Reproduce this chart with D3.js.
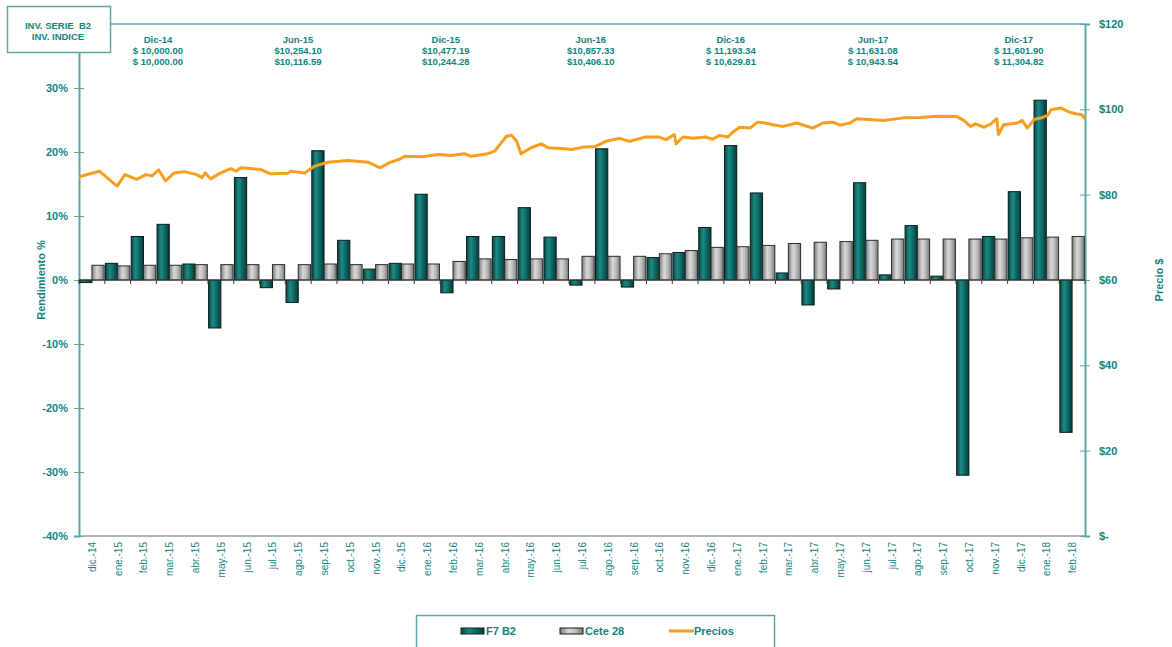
<!DOCTYPE html>
<html>
<head>
<meta charset="utf-8">
<script src="https://cdn.jsdelivr.net/npm/d3@7"></script>
<style>
  body { margin: 0; background: #fff; }
  svg text { font-family: "Liberation Sans", Arial, sans-serif; }
</style>
</head>
<body>
<div id="chart"></div>
<script>
/* ============================================================
   Rendimiento mensual F7 B2 vs Cete 28 + precio diario
   ============================================================ */

// Months (x categories)
const months = ['dic.-14', 'ene.-15', 'feb.-15', 'mar.-15', 'abr.-15', 'may.-15', 'jun.-15', 'jul.-15',
    'ago.-15', 'sep.-15', 'oct.-15', 'nov.-15', 'dic.-15', 'ene.-16', 'feb.-16', 'mar.-16', 'abr.-16',
    'may.-16', 'jun.-16', 'jul.-16', 'ago.-16', 'sep.-16', 'oct.-16', 'nov.-16', 'dic.-16', 'ene.-17',
    'feb.-17', 'mar.-17', 'abr.-17', 'may.-17', 'jun.-17', 'jul.-17', 'ago.-17', 'sep.-17', 'oct.-17',
    'nov.-17', 'dic.-17', 'ene.-18', 'feb.-18'];

// Monthly return F7 B2 (%)
const f7b2 = [-0.4, 2.6, 6.8, 8.7, 2.5, -7.5, 16.0, -1.2, -3.5, 20.2, 6.2, 1.7, 2.6, 13.4, -2.0, 6.8,
    6.8, 11.3, 6.7, -0.8, 20.5, -1.1, 3.5, 4.3, 8.2, 21.0, 13.6, 1.1, -3.9, -1.4, 15.2, 0.8, 8.5, 0.6,
    -30.5, 6.8, 13.8, 28.1, -23.8];

// Monthly Cete 28 (%)
const cete28 = [2.3, 2.2, 2.3, 2.3, 2.4, 2.4, 2.4, 2.4, 2.4, 2.5, 2.4, 2.4, 2.5, 2.5, 2.9, 3.3, 3.2,
    3.3, 3.3, 3.7, 3.7, 3.7, 4.1, 4.6, 5.1, 5.2, 5.4, 5.7, 5.9, 6.0, 6.2, 6.4, 6.4, 6.4, 6.4, 6.4, 6.6,
    6.7, 6.8];

// Price series (right axis)
const priceDates = ['2014-12-01', '2014-12-25', '2015-01-15', '2015-01-24', '2015-02-07', '2015-02-18',
    '2015-02-25', '2015-03-05', '2015-03-13', '2015-03-23', '2015-04-04', '2015-04-19', '2015-04-25',
    '2015-04-29', '2015-05-05', '2015-05-17', '2015-05-29', '2015-06-04', '2015-06-10', '2015-07-03',
    '2015-07-15', '2015-08-04', '2015-08-08', '2015-08-24', '2015-09-05', '2015-09-20', '2015-10-14',
    '2015-11-07', '2015-11-21', '2015-12-02', '2015-12-14', '2015-12-20', '2016-01-09', '2016-01-29',
    '2016-02-13', '2016-02-28', '2016-03-07', '2016-03-27', '2016-04-04', '2016-04-18', '2016-04-24',
    '2016-04-30', '2016-05-05', '2016-05-17', '2016-05-29', '2016-06-06', '2016-06-22', '2016-07-04',
    '2016-07-19', '2016-08-01', '2016-08-13', '2016-08-29', '2016-09-10', '2016-09-29', '2016-10-15',
    '2016-10-23', '2016-11-02', '2016-11-04', '2016-11-12', '2016-11-24', '2016-12-09', '2016-12-17',
    '2016-12-25', '2017-01-04', '2017-01-10', '2017-01-18', '2017-01-30', '2017-02-08', '2017-02-17',
    '2017-02-26', '2017-03-10', '2017-03-26', '2017-04-14', '2017-04-26', '2017-05-08', '2017-05-16',
    '2017-05-28', '2017-06-05', '2017-06-20', '2017-07-06', '2017-07-30', '2017-08-19', '2017-09-08',
    '2017-10-01', '2017-10-09', '2017-10-17', '2017-10-23', '2017-11-02', '2017-11-10', '2017-11-17',
    '2017-11-19', '2017-11-25', '2017-12-11', '2017-12-17', '2017-12-23', '2017-12-31', '2018-01-10',
    '2018-01-16', '2018-01-20', '2018-02-01', '2018-02-10', '2018-02-19', '2018-02-25', '2018-03-01'];
const prices = [84.2, 85.5, 82.0, 84.7, 83.6, 84.7, 84.4, 85.8, 83.2, 85.1, 85.4, 84.7, 84.0, 85.1,
    83.7, 85.1, 86.1, 85.5, 86.3, 85.9, 84.9, 85.0, 85.5, 85.1, 86.7, 87.6, 88.0, 87.6, 86.3, 87.5, 88.3,
    89.0, 88.9, 89.4, 89.2, 89.6, 89.0, 89.6, 90.2, 93.7, 93.9, 92.5, 89.6, 91.0, 91.9, 91.0, 90.8, 90.6,
    91.2, 91.3, 92.5, 93.2, 92.5, 93.5, 93.5, 92.9, 94.1, 91.9, 93.5, 93.2, 93.5, 93.0, 93.9, 93.5, 94.7,
    95.8, 95.6, 97.0, 96.8, 96.4, 96.0, 96.8, 95.6, 96.8, 97.0, 96.3, 96.8, 97.8, 97.6, 97.4, 98.0, 98.1,
    98.4, 98.3, 97.4, 96.0, 96.6, 95.8, 96.6, 97.8, 94.1, 96.4, 96.8, 97.4, 95.6, 97.6, 98.1, 98.6, 99.9,
    100.3, 99.4, 98.9, 98.8, 97.8];

// Left and right axis ticks
const pctTicks = [-40, -30, -20, -10, 0, 10, 20, 30];
const priceTicks = [0, 20, 40, 60, 80, 100, 120];

// Semester annotations above the plot
const noteLabels = ['Dic-14', 'Jun-15', 'Dic-15', 'Jun-16', 'Dic-16', 'Jun-17', 'Dic-17'];
const noteSerie = ['$ 10,000.00', '$10,254.10', '$10,477.19', '$10,857.33', '$ 11,193.34', '$ 11,631.08', '$ 11,601.90'];
const noteIndice = ['$ 10,000.00', '$10,116.59', '$10,244.28', '$10,406.10', '$ 10,629.81', '$ 10,943.54', '$ 11,304.82'];

const seriesNames = ['F7 B2', 'Cete 28', 'Precios'];

// where the annotation text boxes sit, in month units from the left edge
const noteAt = [3.06, 8.49, 14.22, 19.84, 25.27, 30.78, 36.43];

const TEXT = '#11847e';
const AXIS = '#5aa8a6';
const ORANGE = '#f99d1c';

const W = 1172, H = 647;
const M = { left: 79, right: 1085, top: 24, bottom: 536 };

const svg = d3.select('#chart').append('svg')
    .attr('width', W)
    .attr('height', H);

const defs = svg.append('defs');
function addGradient(id, stops) {
    const g = defs.append('linearGradient').attr('id', id)
        .attr('x1', '0%').attr('x2', '100%').attr('y1', '0%').attr('y2', '0%');
    stops.forEach(s => g.append('stop').attr('offset', s[0]).attr('stop-color', s[1]));
}
addGradient('gTeal', [['0%', '#0a4744'], ['35%', '#1b8a83'], ['60%', '#0f6e69'], ['100%', '#083a38']]);
addGradient('gGray', [['0%', '#7c7c7c'], ['40%', '#d9d9d9'], ['65%', '#bdbdbd'], ['100%', '#7a7a7a']]);

// Scales
const x = d3.scaleBand()
    .domain(months)
    .range([M.left, M.right])
    .paddingInner(0.05)
    .paddingOuter(0.025);

const xSub = d3.scaleBand()
    .domain(['f7', 'cete'])
    .range([0, x.bandwidth()]);

const xIdx = d3.scaleLinear().domain([0, months.length]).range([M.left, M.right]);

const yPct = d3.scaleLinear().domain([-40, 40]).range([M.bottom, M.top]);
const yPrice = d3.scaleLinear().domain([0, 120]).range([M.bottom, M.top]);

const parse = d3.timeParse('%Y-%m-%d');
const xTime = d3.scaleTime()
    .domain([parse('2014-12-01'), parse('2018-03-01')])
    .range([M.left, M.right]);

// Plot frame
svg.append('line')
    .attr('x1', M.left).attr('x2', M.right)
    .attr('y1', M.bottom).attr('y2', M.bottom)
    .attr('stroke', '#9a9a9a').attr('stroke-width', 1.5);
svg.append('line')
    .attr('x1', M.left).attr('x2', M.right)
    .attr('y1', M.top).attr('y2', M.top)
    .attr('stroke', AXIS).attr('stroke-width', 1.5);

// Left axis
const leftAxis = svg.append('g').attr('transform', `translate(${M.left},0)`)
    .call(d3.axisLeft(yPct).tickValues(pctTicks).tickSize(5).tickFormat(d => d + '%'));
leftAxis.select('.domain').attr('stroke', AXIS).attr('stroke-width', 2);
leftAxis.selectAll('.tick line').attr('stroke', AXIS).attr('x2', 5).attr('x1', -5);
leftAxis.selectAll('.tick text')
    .attr('x', -11)
    .attr('fill', TEXT).attr('font-size', 11).attr('font-weight', 'bold');

// Right axis
const rightAxis = svg.append('g').attr('transform', `translate(${M.right},0)`)
    .call(d3.axisRight(yPrice).tickValues(priceTicks).tickSize(5)
        .tickFormat(d => d === 0 ? '$-' : '$' + d));
rightAxis.select('.domain').attr('stroke', AXIS).attr('stroke-width', 2);
rightAxis.selectAll('.tick line').attr('stroke', AXIS).attr('x1', -5).attr('x2', 5);
rightAxis.selectAll('.tick text')
    .attr('x', 14)
    .attr('fill', TEXT).attr('font-size', 11).attr('font-weight', 'bold');

// Axis titles
svg.append('text')
    .attr('transform', `translate(45,${yPct(0)}) rotate(-90)`)
    .attr('text-anchor', 'middle')
    .attr('fill', TEXT).attr('font-size', 11).attr('font-weight', 'bold')
    .text('Rendimiento %');
svg.append('text')
    .attr('transform', `translate(1163,${(M.top + M.bottom) / 2}) rotate(-90)`)
    .attr('text-anchor', 'middle')
    .attr('fill', TEXT).attr('font-size', 11).attr('font-weight', 'bold')
    .text('Precio $');

// Month labels at the bottom
svg.append('g').selectAll('text')
    .data(months)
    .enter()
    .append('text')
    .attr('transform', d => `translate(${x(d) + x.bandwidth() / 2 + 4},${M.bottom + 6}) rotate(-90)`)
    .attr('text-anchor', 'end')
    .attr('fill', TEXT).attr('font-size', 10)
    .text(d => d);

// Bars
const barGroups = svg.append('g').selectAll('g')
    .data(months.map((m, i) => ({ month: m, f7: f7b2[i], cete: cete28[i] })))
    .enter()
    .append('g')
    .attr('transform', d => `translate(${x(d.month)},0)`);

barGroups.append('rect')
    .attr('x', xSub('f7'))
    .attr('width', xSub.bandwidth())
    .attr('y', d => yPct(Math.max(0, d.f7)))
    .attr('height', d => Math.abs(yPct(d.f7) - yPct(0)))
    .attr('fill', 'url(#gTeal)')
    .attr('stroke', '#0a1a1a').attr('stroke-width', 1);

barGroups.append('rect')
    .attr('x', xSub('cete'))
    .attr('width', xSub.bandwidth())
    .attr('y', d => yPct(Math.max(0, d.cete)))
    .attr('height', d => Math.abs(yPct(d.cete) - yPct(0)))
    .attr('fill', 'url(#gGray)')
    .attr('stroke', '#2a2a2a').attr('stroke-width', 1);

// Zero line with category ticks
svg.append('line')
    .attr('x1', M.left).attr('x2', M.right)
    .attr('y1', yPct(0)).attr('y2', yPct(0))
    .attr('stroke', '#3a3a3a').attr('stroke-width', 1.2);
svg.append('g').selectAll('line')
    .data(d3.range(months.length + 1))
    .enter()
    .append('line')
    .attr('x1', i => xIdx(i))
    .attr('x2', i => xIdx(i))
    .attr('y1', yPct(0)).attr('y2', yPct(0) + 4)
    .attr('stroke', '#3a3a3a');

// Price line
const priceData = priceDates.map((d, i) => ({ date: parse(d), value: prices[i] }));
svg.append('path')
    .datum(priceData)
    .attr('fill', 'none')
    .attr('stroke', ORANGE)
    .attr('stroke-width', 3)
    .attr('stroke-linejoin', 'round')
    .attr('d', d3.line().x(d => xTime(d.date)).y(d => yPrice(d.value)));

// Top-left box
svg.append('rect')
    .attr('x', 7.5).attr('y', 6.5).attr('width', 103).attr('height', 46)
    .attr('fill', '#fff').attr('stroke', AXIS).attr('stroke-width', 1.5);
svg.append('text')
    .attr('x', 58).attr('y', 29)
    .attr('text-anchor', 'middle').attr('fill', TEXT)
    .attr('font-size', 9.5).attr('font-weight', 'bold')
    .attr('xml:space', 'preserve')
    .text('INV. SERIE  B2');
svg.append('text')
    .attr('x', 58).attr('y', 40)
    .attr('text-anchor', 'middle').attr('fill', TEXT)
    .attr('font-size', 9.5).attr('font-weight', 'bold')
    .text('INV. INDICE');

// Semester annotations
const notes = svg.append('g').selectAll('g')
    .data(noteLabels.map((l, i) => ({ label: l, a: noteSerie[i], b: noteIndice[i], at: noteAt[i] })))
    .enter()
    .append('g')
    .attr('transform', d => `translate(${xIdx(d.at)},0)`)
    .attr('text-anchor', 'middle')
    .attr('fill', TEXT).attr('font-size', 9.5).attr('font-weight', 'bold');
notes.append('text').attr('y', 43).text(d => d.label);
notes.append('text').attr('y', 53.5).attr('xml:space', 'preserve').text(d => d.a);
notes.append('text').attr('y', 64.5).attr('xml:space', 'preserve').text(d => d.b);

// Legend
const legend = svg.append('g');
legend.append('rect')
    .attr('x', 416.5).attr('y', 615.5).attr('width', 358).attr('height', 36)
    .attr('fill', '#fff').attr('stroke', AXIS).attr('stroke-width', 1.5);
const legX = [461, 560, 669];
seriesNames.forEach((name, i) => {
    const lg = legend.append('g').attr('transform', `translate(${legX[i]},631)`);
    if (i < 2) {
        lg.append('rect')
            .attr('x', 0).attr('y', -3).attr('width', 23).attr('height', 6)
            .attr('fill', i === 0 ? 'url(#gTeal)' : 'url(#gGray)')
            .attr('stroke', '#1a1a1a').attr('stroke-width', 1);
    } else {
        lg.append('line')
            .attr('x1', 0).attr('x2', 25).attr('y1', 0).attr('y2', 0)
            .attr('stroke', ORANGE).attr('stroke-width', 3);
    }
    lg.append('text')
        .attr('x', 25).attr('y', 4)
        .attr('fill', TEXT).attr('font-size', 11).attr('font-weight', 'bold')
        .text(name);
});
</script>
</body>
</html>
